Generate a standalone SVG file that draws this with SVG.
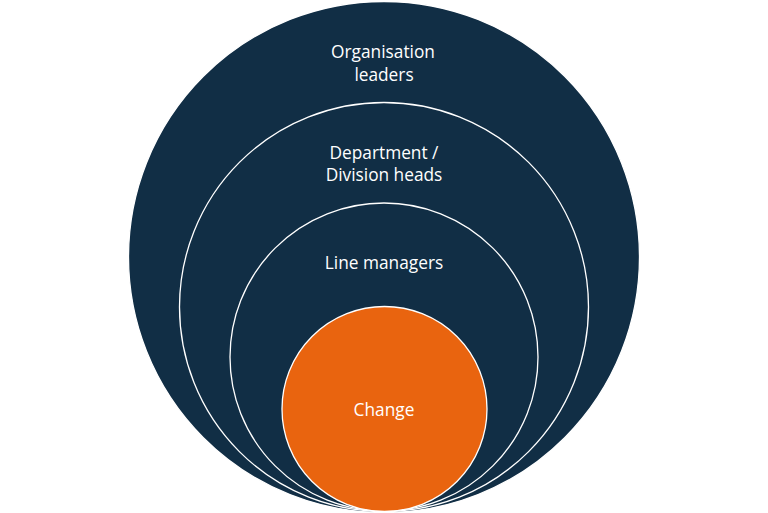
<svg xmlns="http://www.w3.org/2000/svg" width="768" height="513" viewBox="0 0 768 513">
<style>
.ring{fill:#112e45;stroke:#ffffff;stroke-width:1.3}
.core{fill:#e9640f;stroke:#ffffff;stroke-width:1.3}
.lbl{font-family:"Open Sans","Liberation Sans",sans-serif;font-size:17.3px;fill:#ffffff;text-anchor:middle}
</style>
<rect width="768" height="513" fill="#ffffff"/>
<g id="connectors"></g>
<g id="organisation-leaders">
<circle class="ring" cx="384" cy="257" r="255.5" stroke="none"/>
<text class="lbl" x="383" y="58">Organisation</text>
<text class="lbl" x="384" y="81">leaders</text>
</g>
<g id="division-heads">
<circle class="ring" cx="384" cy="307" r="204.5"/>
<text class="lbl" x="384" y="159">Department /</text>
<text class="lbl" x="384" y="181">Division heads</text>
</g>
<g id="line-managers">
<circle class="ring" cx="384" cy="357" r="154"/>
<text class="lbl" x="384" y="269">Line managers</text>
</g>
<g id="change">
<circle class="core" cx="384.5" cy="409" r="102.5"/>
<text class="lbl" x="384" y="416">Change</text>
</g>
</svg>
